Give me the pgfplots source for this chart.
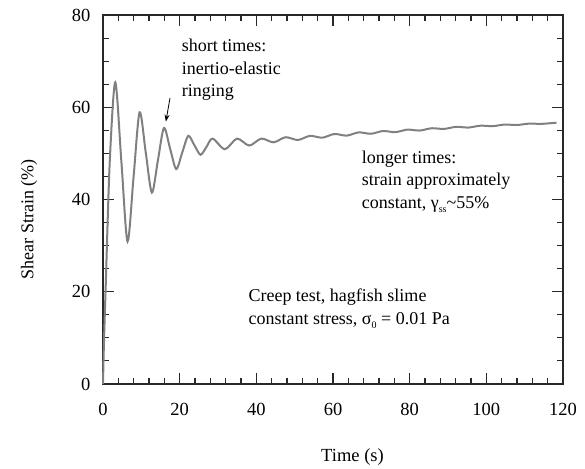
\documentclass[border=0pt]{standalone}
\usepackage{fontspec}
\setmainfont{Liberation Serif}
\usepackage{pgfplots}
\pgfplotsset{compat=1.18}
\usetikzlibrary{arrows.meta}
\definecolor{curve}{RGB}{128,128,128}
\definecolor{axisc}{RGB}{40,40,40}
\begin{document}
\begin{tikzpicture}
\begin{axis}[
  at={(0,0)}, anchor=south west,
  scale only axis, width=460pt, height=369pt,
  xmin=0, xmax=120, ymin=0, ymax=80,
  xtick={0,20,...,120}, ytick={0,20,...,80},
  minor x tick num=4, minor y tick num=3,
  tick align=inside, major tick length=11pt, minor tick length=6pt,
  axis line style={axisc, line width=1.1pt},
  tick style={axisc, line width=1.1pt},
  /pgf/number format/assume math mode=true,
  tick label style={font=\fontsize{18.5}{20}\selectfont},
  xticklabel style={yshift=-16pt},
  yticklabel style={xshift=-9pt},
  xlabel={Time (s)}, ylabel={Shear Strain (\%)},
  xlabel style={at={(axis description cs:0.5424,-0.2106)}, anchor=base, font=\fontsize{18.5}{20}\selectfont},
  ylabel style={at={(axis description cs:-0.1515,0.447)}, anchor=base, font=\fontsize{18}{20}\selectfont},
  clip=false,
]
\addplot[curve, line width=2pt, smooth] coordinates {
(0,0) (0.25,9) (0.7,21) (1.75,48) (3.2,65.4)
(4.8,48.15) (6.4,30.9) (7.975,44.9) (9.55,58.9) (11.15,50.2) (12.75,41.5)
(14.325,48.5) (15.9,55.5) (17.5,51.05) (19.1,46.6) (20.675,50.2) (22.25,53.8)
(23.85,51.75) (25.45,49.7) (27.025,51.45) (28.6,53.2)
(31.8,50.9) (34.95,53.2) (38.15,51.7) (41.3,53.2) (44.5,52.4) (47.65,53.5)
(50.85,52.9) (54.0,53.8) (57.2,53.4) (60.35,54.2) (63.55,53.85) (66.7,54.55)
(69.9,54.25) (73.05,54.85) (76.25,54.6) (79.4,55.15) (82.6,54.95) (85.75,55.45)
(88.95,55.3) (92.1,55.75) (95.3,55.6) (98.45,56.0) (101.65,55.9) (104.8,56.25)
(108.0,56.15) (111.15,56.45) (114.35,56.4) (118.3,56.65)
};
\draw[-{Stealth[length=7pt,width=5pt]}, line width=0.8pt] (axis cs:17.48,62.0) -- (axis cs:16.4,56.9);
\begin{scope}[every node/.style={anchor=base west, inner sep=0pt, font=\fontsize{18}{22}\selectfont}]
\node at (axis cs:20.53,72.04) {short times:};
\node at (axis cs:20.53,67.14) {inertio-elastic};
\node at (axis cs:20.53,62.29) {ringing};
\node at (axis cs:67.49,47.85) {longer times:};
\node at (axis cs:67.49,42.99) {strain approximately};
\node at (axis cs:67.49,38.09) {constant, γ\raisebox{-0.25em}{\fontsize{10}{10}\selectfont ss}\textasciitilde 55\%};
\node at (axis cs:37.91,17.84) {Creep test, hagfish slime};
\node at (axis cs:37.91,12.94) {constant stress, σ\raisebox{-0.25em}{\fontsize{10}{10}\selectfont 0} = 0.01 Pa};
\end{scope}
\end{axis}
\pgfresetboundingbox
\path[use as bounding box] (-103pt,-84pt) rectangle (482pt,384pt);
\end{tikzpicture}
\end{document}
